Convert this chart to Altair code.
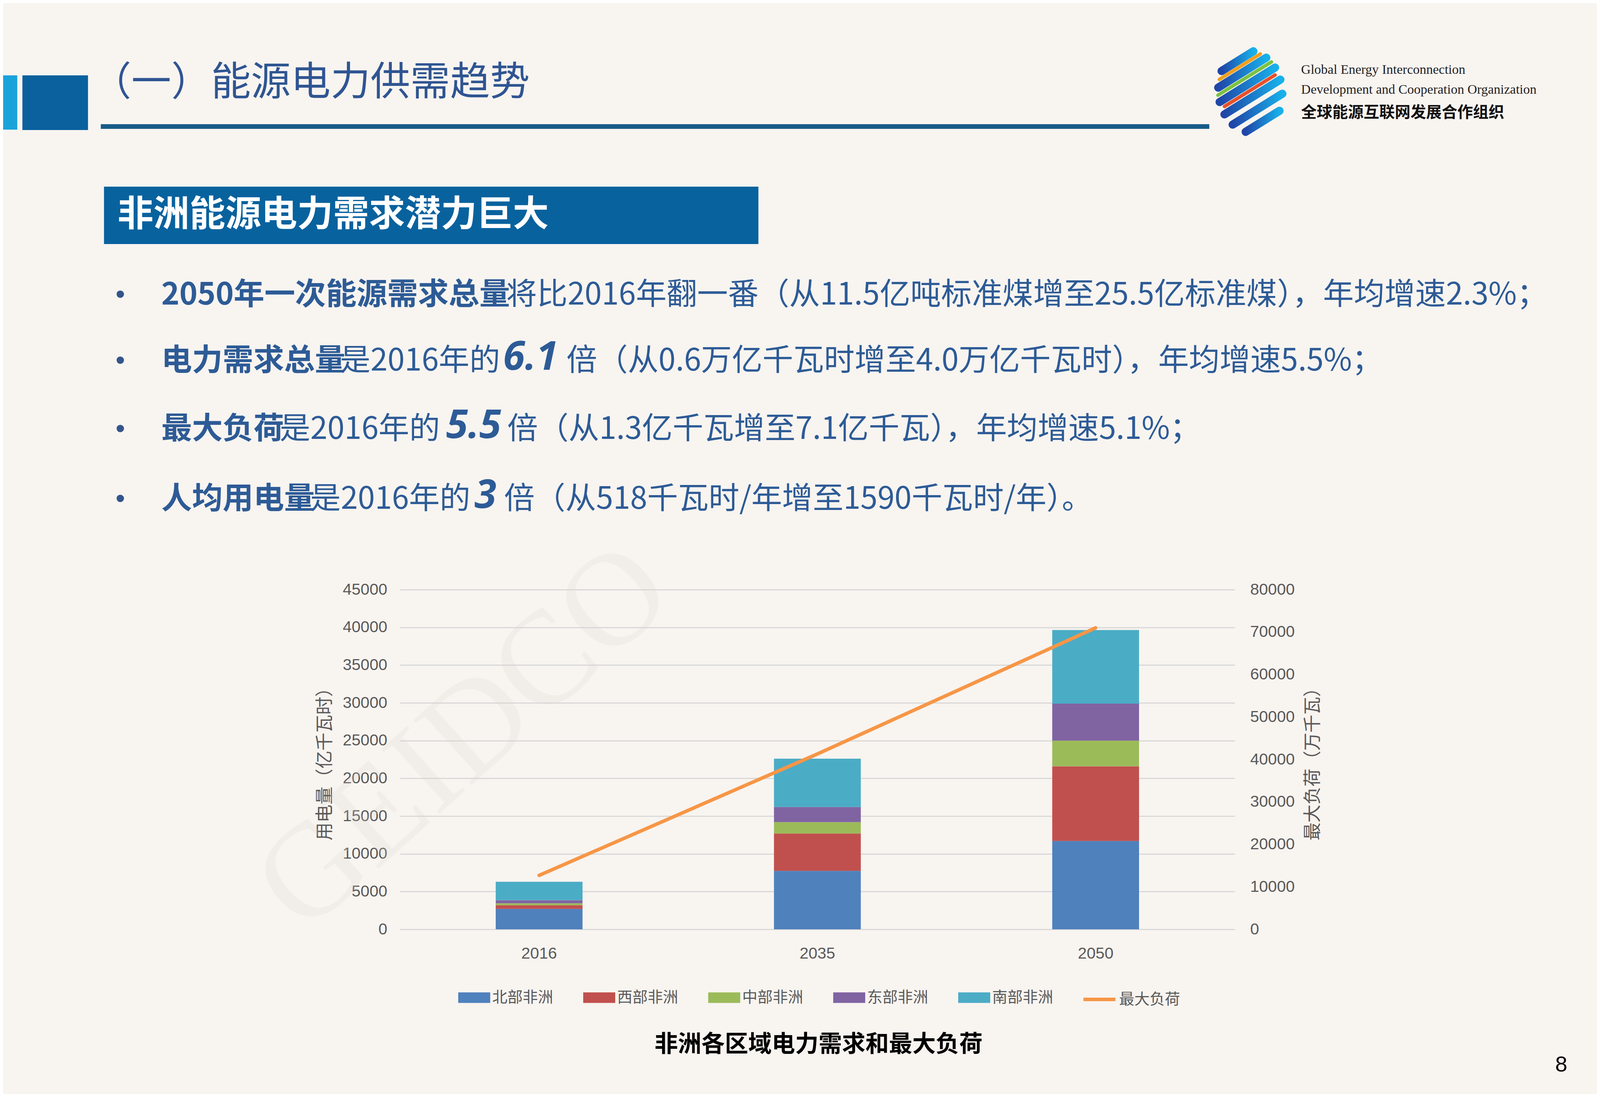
import math
import altair as alt
import pandas as pd

# ---------------- data ----------------
years = ["2016", "2035", "2050"]
regions = ["北部非洲", "西部非洲", "中部非洲", "东部非洲", "南部非洲"]
north = [2700, 7750, 11700]
west = [500, 4950, 9900]
central = [250, 1500, 3400]
east = [400, 2000, 4900]
south = [2450, 6400, 9750]
peak_load = [12700, 41300, 71000]
line_name = "最大负荷"
region_colors = ["#4F81BD", "#C0504D", "#9BBB59", "#8064A2", "#4BACC6"]
line_color = "#F79646"
left_ticks = list(range(0, 45001, 5000))
right_ticks = list(range(0, 80001, 10000))

series = [north, west, central, east, south]
rows = []
for ri, (reg, vals) in enumerate(zip(regions, series)):
    for yi, yr in enumerate(years):
        rows.append({"year": yr, "region": reg, "value": vals[yi], "order": ri})
bar_df = pd.DataFrame(rows)
line_df = pd.DataFrame({"year": years, "load": peak_load, "name": [line_name] * 3})

# ---------------- layout (page is ~4096 css px wide, 2812 tall) ----------------
SX = 4096 / 5000            # horizontal reference-px -> css px
SVG_W, SVG_H = 4080, 2794
OXc, OY = 1250 * SX, 1510   # plot origin (css)
W, H = round(2609 * SX), 870
PAD_L, PAD_T = round(OXc - 8), OY - 8
PAD_R = SVG_W - PAD_L - W
PAD_B = SVG_H - PAD_T - H
FX = 0.82                   # font scale

CJK = "Noto Sans CJK SC"
SANS = "Liberation Sans"
SERIF = "Liberation Serif"
AXIS_GREY = "#595959"
TEXT_BLUE = "#2D5B96"
BG = "#F8F4F0"


def px(x):
    return x * SX - OXc


def py(y):
    return y - OY


def one():
    return alt.Data(values=[{}])


def txt(text, x, y, size, color, weight="normal", font=CJK, align="left",
        angle=0, italic=False, opacity=1.0):
    props = dict(text=text, fontSize=size, color=color, fontWeight=weight,
                 font=font, align=align, baseline="middle", opacity=opacity)
    if angle:
        props["angle"] = angle
    if italic:
        props["fontStyle"] = "italic"
    return alt.Chart(one()).mark_text(**props).encode(
        x=alt.value(px(x)), y=alt.value(py(y)))


def rect(x1, y1, x2, y2, color):
    return alt.Chart(one()).mark_rect(color=color).encode(
        x=alt.value(px(x1)), x2=alt.value(px(x2)),
        y=alt.value(py(y1)), y2=alt.value(py(y2)))


def rule(x1, y1, x2, y2, stroke, width, cap="butt"):
    return alt.Chart(one()).mark_rule(stroke=stroke, strokeWidth=width, strokeCap=cap).encode(
        x=alt.value(px(x1)), x2=alt.value(px(x2)),
        y=alt.value(py(y1)), y2=alt.value(py(y2)))


back = []
front = []

# watermark
back.append(txt("GEIDCO", 1450, 1890, 340, "#D9D2CB", font=SERIF, align="center",
                angle=318, opacity=0.2))

# header
front.append(rect(0, 193, 54, 332, "#1AA3DB"))
front.append(rect(70, 193, 275, 333, "#0A619E"))
front.append(rect(315, 318, 3779, 330, "#175B87"))
front.append(txt("（一）能源电力供需趋势", 286, 213, 102, "#2F5592"))

# logo (striped globe)
cx, cy, R = 3907, 235, 111
ang = math.radians(27)
ux, uy = math.cos(ang), -math.sin(ang)
nx, ny = math.sin(ang), math.cos(ang)
blue_grad = alt.Gradient(gradient="linear",
                         stops=[alt.GradientStop(color="#2046A8", offset=0),
                                alt.GradientStop(color="#18B0EA", offset=1)],
                         x1=0, x2=1, y1=0, y2=0)
for d, col, wdt, frac in [(-72, "#F0A020", 9, 0.85), (-38, "#7CC242", 9, 0.9),
                          (-3, "#E8502A", 9, 0.8)]:
    h = math.sqrt(R * R - d * d) * frac
    mx, my = cx + d * nx, cy + d * ny
    front.append(rule(mx - h * ux, my - h * uy, mx + h * ux, my + h * uy, col, wdt, "round"))
for d in [-88, -55, -20, 15, 50, 85]:
    h = math.sqrt(R * R - d * d) - 12
    mx, my = cx + d * nx, cy + d * ny
    front.append(rule(mx - h * ux, my - h * uy, mx + h * ux, my + h * uy, blue_grad, 21, "round"))
front.append(txt("Global Energy Interconnection", 4066, 179, 34, "#222222", font=SERIF))
front.append(txt("Development and Cooperation Organization", 4066, 230, 34, "#222222", font=SERIF))
front.append(txt("全球能源互联网发展合作组织", 4066, 289, 40, "#111111", weight="bold"))

# section title
front.append(rect(325, 478, 2370, 625, "#08629E"))
front.append(txt("非洲能源电力需求潜力巨大", 367, 551, round(112 * FX), "#FFFFFF", weight="bold"))

# bullets
BS = round(96 * SX, 1)
NUM = round(124 * SX, 1)
line_y = [756, 925, 1100, 1279]
for yy in line_y:
    front.append(txt("•", 376, yy, 70, "#34558C", font=SANS, align="center"))

segments = [
    ("2050年一次能源需求总量", 504, 0, "b"),
    ("将比2016年翻一番（从11.5亿吨标准煤增至25.5亿标准煤），年均增速2.3%；", 1582, 0, "n"),
    ("电力需求总量", 504, 1, "b"),
    ("是2016年的", 1062, 1, "n"),
    ("6.1", 1572, 1, "i"),
    ("倍（从0.6万亿千瓦时增至4.0万亿千瓦时），年均增速5.5%；", 1770, 1, "n"),
    ("最大负荷", 504, 2, "b"),
    ("是2016年的", 874, 2, "n"),
    ("5.5", 1394, 2, "i"),
    ("倍（从1.3亿千瓦增至7.1亿千瓦），年均增速5.1%；", 1585, 2, "n"),
    ("人均用电量", 504, 3, "b"),
    ("是2016年的", 969, 3, "n"),
    ("3", 1483, 3, "i"),
    ("倍（从518千瓦时/年增至1590千瓦时/年）。", 1575, 3, "n"),
]
for text, x, li, kind in segments:
    yy = line_y[li]
    if kind == "b":
        front.append(txt(text, x, yy, BS, TEXT_BLUE, weight="bold"))
    elif kind == "i":
        front.append(txt(text, x, yy - 8, NUM, TEXT_BLUE, weight="bold", italic=True,
                         font="Open Sans"))
    else:
        front.append(txt(text, x, yy, BS, TEXT_BLUE))

# ---------------- chart ----------------
AX_FS = 41
LEG_FS = 39
x_enc = alt.X("year:N", sort=years,
              scale=alt.Scale(paddingInner=0.688, paddingOuter=0.344),
              axis=alt.Axis(title=None, labelAngle=0, labelFontSize=AX_FS, labelColor=AXIS_GREY,
                            labelFont=SANS, ticks=False, tickSize=0, domain=False,
                            labelPadding=42, grid=False))

bar_symbol = "M-1,-0.33L1,-0.33L1,0.33L-1,0.33Z"
sym_size = round((100 * SX) ** 2)

bars = alt.Chart(bar_df).mark_bar().encode(
    x=x_enc,
    y=alt.Y("value:Q", stack="zero",
            scale=alt.Scale(domain=[0, 45000], nice=False),
            axis=alt.Axis(values=left_ticks, format="d", title="用电量（亿千瓦时）", titleFont=CJK,
                          titleFontSize=46, titleFontWeight="normal", titleColor=AXIS_GREY,
                          titlePadding=21, labelFont=SANS, labelFontSize=AX_FS,
                          labelColor=AXIS_GREY, labelPadding=33, ticks=False, tickSize=0,
                          domain=False, grid=True, gridColor="#D9D9D9", gridWidth=3)),
    color=alt.Color("region:N", scale=alt.Scale(domain=regions, range=region_colors),
                    legend=alt.Legend(title=None, orient="none", direction="horizontal",
                                      legendX=round(px(1432)), legendY=1004,
                                      symbolType=bar_symbol,
                                      symbolSize=sym_size, symbolStrokeWidth=0,
                                      labelFont=CJK, labelFontSize=LEG_FS, labelColor=AXIS_GREY,
                                      labelLimit=600, labelOffset=5, columnPadding=76,
                                      padding=0)),
    order=alt.Order("order:Q"),
)

line = alt.Chart(line_df).mark_line(strokeWidth=9, strokeCap="round").encode(
    x=alt.X("year:N", sort=years),
    y=alt.Y("load:Q", scale=alt.Scale(domain=[0, 80000], nice=False),
            axis=alt.Axis(orient="right", values=right_ticks, format="d", title="最大负荷（万千瓦）",
                          titleFont=CJK, titleFontSize=46, titleFontWeight="normal",
                          titleColor=AXIS_GREY, titleAngle=270, titleBaseline="top",
                          titlePadding=24,
                          labelFont=SANS, labelFontSize=AX_FS, labelColor=AXIS_GREY,
                          labelPadding=39, ticks=False, tickSize=0, domain=False, grid=False)),
    stroke=alt.Stroke("name:N", scale=alt.Scale(domain=[line_name], range=[line_color]),
                      legend=alt.Legend(title=None, orient="none", direction="horizontal",
                                        legendX=round(px(3380)), legendY=1004, symbolType="stroke",
                                        symbolSize=sym_size, symbolStrokeWidth=9,
                                        labelFont=CJK, labelFontSize=LEG_FS, labelColor=AXIS_GREY,
                                        labelLimit=600, labelOffset=5, padding=0)),
)

front.append(txt("非洲各区域电力需求和最大负荷", 2558, 2676, 60, "#000000",
                 weight="bold", align="center"))
front.append(txt("8", 4879, 2727, 56, "#000000", font=SANS, align="center"))

chart = alt.layer(*(back + [bars, line] + front)).resolve_scale(
    y="independent", color="independent", stroke="independent"
).properties(
    width=W, height=H,
    padding={"left": PAD_L, "top": PAD_T, "right": PAD_R, "bottom": PAD_B},
    autosize=alt.AutoSizeParams(type="none"),
).configure(background=BG).configure_view(stroke=None)

chart.save("out.html", embed_options={"renderer": "svg", "actions": False})
